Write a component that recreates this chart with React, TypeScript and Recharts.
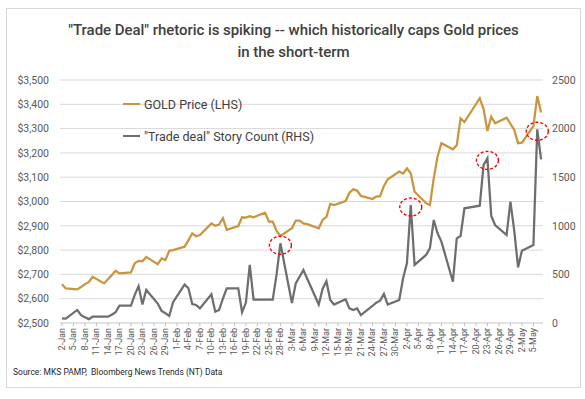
import { LineChart, Line, XAxis, YAxis, CartesianGrid, Legend, ReferenceDot } from 'recharts'

// trading days shown on the chart (gold has no print on Good Friday)
const dates = [
  '2-Jan', '3-Jan', '6-Jan', '7-Jan', '8-Jan', '9-Jan', '10-Jan', '13-Jan', '14-Jan', '15-Jan', '16-Jan',
  '17-Jan', '20-Jan', '21-Jan', '22-Jan', '23-Jan', '24-Jan', '27-Jan', '28-Jan', '29-Jan', '30-Jan', '31-Jan',
  '3-Feb', '4-Feb', '5-Feb', '6-Feb', '7-Feb', '10-Feb', '11-Feb', '12-Feb', '13-Feb', '14-Feb',
  '17-Feb', '18-Feb', '19-Feb', '20-Feb', '21-Feb', '24-Feb', '25-Feb', '26-Feb', '27-Feb', '28-Feb',
  '3-Mar', '4-Mar', '5-Mar', '6-Mar', '7-Mar', '10-Mar', '11-Mar', '12-Mar', '13-Mar', '14-Mar',
  '17-Mar', '18-Mar', '19-Mar', '20-Mar', '21-Mar', '24-Mar', '25-Mar', '26-Mar', '27-Mar', '28-Mar', '31-Mar',
  '1-Apr', '2-Apr', '3-Apr', '4-Apr', '7-Apr', '8-Apr', '9-Apr', '10-Apr', '11-Apr', '14-Apr', '15-Apr',
  '16-Apr', '17-Apr', '21-Apr', '22-Apr', '23-Apr', '24-Apr', '25-Apr', '28-Apr', '29-Apr', '30-Apr',
  '1-May', '2-May', '5-May', '6-May', '7-May',
]

const goldPrice = [
  2660, 2642, 2638, 2648, 2660, 2668, 2690, 2663, 2680, 2697, 2715,
  2704, 2708, 2746, 2756, 2754, 2772, 2742, 2766, 2759, 2797, 2800,
  2814, 2840, 2869, 2857, 2862, 2910, 2900, 2905, 2931, 2883,
  2899, 2935, 2934, 2940, 2935, 2954, 2917, 2917, 2879, 2858,
  2890, 2921, 2921, 2910, 2907, 2890, 2924, 2937, 2990, 2985,
  3002, 3036, 3050, 3045, 3023, 3010, 3020, 3022, 3064, 3091, 3123,
  3115, 3136, 3116, 3040, 2993, 2985, 3095, 3185, 3240, 3215, 3232,
  3342, 3327, 3425, 3380, 3290, 3349, 3322, 3345, 3320, 3295,
  3240, 3242, 3310, 3434, 3366,
]

const storyCount = [
  48, 45, 134, 80, 60, 40, 65, 65, 65, 85, 110,
  178, 178, 290, 380, 190, 340, 200, 125, 100, 72, 215,
  395, 357, 195, 185, 150, 295, 116, 134, 250, 357,
  357, 110, 210, 597, 240, 240, 240, 240, 500, 820,
  205, 408, 476, 545, 455, 190, 350, 430, 237, 190,
  244, 151, 134, 150, 82, 175, 209, 230, 300, 190, 237,
  460, 614, 1214, 597, 700, 770, 1060, 923, 837, 425, 871,
  895, 1180, 1207, 1626, 1694, 1101, 1008, 905, 1248, 950,
  573, 744, 803, 1993, 1684,
]

const tickLabels = [
  '2-Jan', '5-Jan', '8-Jan', '11-Jan', '14-Jan', '17-Jan', '20-Jan', '23-Jan', '26-Jan', '29-Jan',
  '1-Feb', '4-Feb', '7-Feb', '10-Feb', '13-Feb', '16-Feb', '19-Feb', '22-Feb', '25-Feb', '28-Feb',
  '3-Mar', '6-Mar', '9-Mar', '12-Mar', '15-Mar', '18-Mar', '21-Mar', '24-Mar', '27-Mar', '30-Mar',
  '2-Apr', '5-Apr', '8-Apr', '11-Apr', '14-Apr', '17-Apr', '20-Apr', '23-Apr', '26-Apr', '29-Apr',
  '2-May', '5-May',
]

const priceTicks = [2500, 2600, 2700, 2800, 2900, 3000, 3100, 3200, 3300, 3400, 3500]
const countTicks = [0, 500, 1000, 1500, 2000, 2500]

// story-count spikes ringed in red
const circledDates = ['28-Feb', '3-Apr', '23-Apr', '6-May']

const MONTH_START: Record<string, number> = { Jan: 0, Feb: 31, Mar: 59, Apr: 90, May: 120 }
const dayIndex = (label: string) => {
  const [d, m] = label.split('-')
  return MONTH_START[m] + Number(d) - 2
}

const data = dates.map((date, i) => ({
  day: dayIndex(date),
  date,
  gold: goldPrice[i],
  stories: storyCount[i],
}))

const labelByDay: Record<number, string> = {}
tickLabels.forEach((t) => { labelByDay[dayIndex(t)] = t })

const FONT = 'Roboto, "Noto Sans", sans-serif'
const GOLD = '#C9963F'
const GREY = '#6E6E6E'
const LEGEND_ORDER = ['gold', 'stories']

function DateTick({ x, y, payload }: any) {
  return (
    <text
      x={x}
      y={y}
      transform={`rotate(-90 ${x} ${y})`}
      textAnchor="end"
      dominantBaseline="central"
      fontSize={9}
      fontFamily={FONT}
      fill="#595959"
    >
      {labelByDay[payload.value]}
    </text>
  )
}

function Ring({ cx, cy }: any) {
  return (
    <ellipse cx={cx} cy={cy + 2} rx={11} ry={9} fill="none" stroke="#FF0000" strokeWidth={1.4} strokeDasharray="3 2" />
  )
}

const renderLegend = ({ payload }: any) => {
  const items = [...(payload || [])].sort(
    (a: any, b: any) => LEGEND_ORDER.indexOf(a.dataKey) - LEGEND_ORDER.indexOf(b.dataKey)
  )
  return (
    <div style={{ fontFamily: FONT, fontSize: 12.5, color: '#404040' }}>
      {items.map((entry: any) => (
        <div key={entry.value} style={{ display: 'flex', alignItems: 'center', height: 32 }}>
          <span style={{ display: 'inline-block', width: 17, height: 2.5, background: entry.color, marginRight: 4 }} />
          <span>{entry.value}</span>
        </div>
      ))}
    </div>
  )
}

export default function App() {
  return (
    <div style={{ position: 'absolute', left: 0, top: 0, width: 585, height: 399, background: '#fff' }}>
      <div
        style={{
          position: 'absolute', left: 6, top: 8, width: 573, height: 378,
          border: '1px solid #D9D9D9',
        }}
      />
      <div
        style={{
          position: 'absolute', left: 6, top: 19, width: 575, textAlign: 'center',
          fontFamily: FONT, fontWeight: 500, fontSize: 15, letterSpacing: '-0.05px',
          lineHeight: '22px', color: '#404040',
        }}
      >
        "Trade Deal" rhetoric is spiking -- which historically caps Gold prices
        <br />
        in the short-term
      </div>

      <div style={{ position: 'absolute', left: 0, top: 0 }}>
        <LineChart width={585} height={399} data={data} margin={{ top: 80, right: 0, bottom: 36, left: 0 }}>
          <CartesianGrid yAxisId="left" vertical={false} stroke="#D9D9D9" strokeWidth={1} />
          <XAxis
            dataKey="day"
            type="number"
            domain={[-0.5, 125.5]}
            ticks={tickLabels.map(dayIndex)}
            interval={0}
            height={40}
            tick={<DateTick />}
            tickSize={3}
            tickMargin={2}
            axisLine={{ stroke: '#D9D9D9' }}
            tickLine={{ stroke: '#BFBFBF' }}
          />
          <YAxis
            yAxisId="left"
            domain={[2500, 3500]}
            ticks={priceTicks}
            width={60}
            axisLine={false}
            tickLine={false}
            tickMargin={5}
            tickFormatter={(v: number) => `$${v.toLocaleString('en-US')}`}
            tick={{ fontSize: 10.5, fill: '#595959', fontFamily: FONT }}
          />
          <YAxis
            yAxisId="right"
            orientation="right"
            domain={[0, 2500]}
            ticks={countTicks}
            width={42}
            axisLine={false}
            tickLine={false}
            tickMargin={3}
            tick={{ fontSize: 10.5, fill: '#595959', fontFamily: FONT }}
          />
          <Legend
            layout="vertical"
            align="center"
            verticalAlign="middle"
            wrapperStyle={{ left: 123, top: 88, width: 'auto' }}
            content={renderLegend}
          />
          <Line
            yAxisId="left"
            dataKey="gold"
            name="GOLD Price (LHS)"
            stroke={GOLD}
            strokeWidth={2.25}
            dot={false}
            isAnimationActive={false}
          />
          <Line
            yAxisId="right"
            dataKey="stories"
            name={'"Trade deal" Story Count (RHS)'}
            stroke={GREY}
            strokeWidth={2.25}
            dot={false}
            isAnimationActive={false}
          />
          {circledDates.map((d) => (
            <ReferenceDot
              key={d}
              yAxisId="right"
              x={dayIndex(d)}
              y={storyCount[dates.indexOf(d)]}
              shape={<Ring />}
            />
          ))}
        </LineChart>
      </div>

      <div
        style={{
          position: 'absolute', left: 13, top: 367, fontFamily: FONT, fontSize: 8.5,
          color: '#262626', whiteSpace: 'pre',
        }}
      >
        Source: MKS PAMP,  Bloomberg News Trends (NT) Data
      </div>
    </div>
  )
}
